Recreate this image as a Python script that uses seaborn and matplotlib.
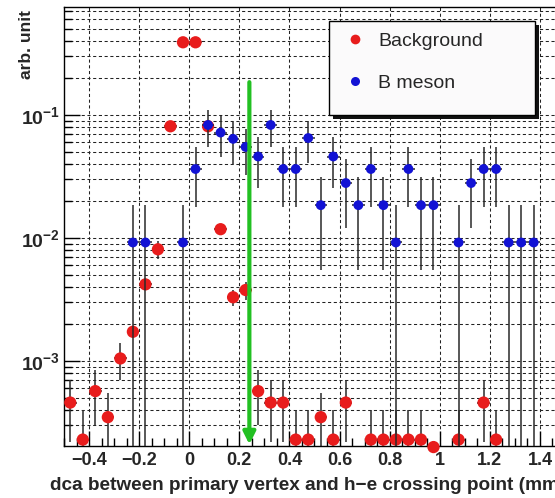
import numpy as np
import pandas as pd
import matplotlib
matplotlib.use('Agg')
import matplotlib.pyplot as plt
import seaborn as sns
from matplotlib.lines import Line2D
from matplotlib.patches import Rectangle
from matplotlib.ticker import FixedLocator, LogLocator, NullFormatter

# ---------------- data ----------------
bg_x = [-0.475, -0.425, -0.375, -0.325, -0.275, -0.225, -0.175, -0.125, -0.075, -0.025,
        0.025, 0.075, 0.125, 0.175, 0.225, 0.275, 0.325, 0.375, 0.425, 0.475,
        0.525, 0.575, 0.625, 0.725, 0.775, 0.825, 0.875, 0.925, 0.975, 1.075,
        1.175, 1.225]
bg_y = [4.6e-4, 2.3e-4, 5.7e-4, 3.5e-4, 1.05e-3, 1.73e-3, 4.2e-3, 8.1e-3, 8.1e-2, 0.39,
        0.39, 8.1e-2, 1.18e-2, 3.3e-3, 3.78e-3, 5.7e-4, 4.6e-4, 4.6e-4, 2.3e-4, 2.3e-4,
        3.5e-4, 2.3e-4, 4.6e-4, 2.3e-4, 2.3e-4, 2.3e-4, 2.3e-4, 2.3e-4, 2.0e-4, 2.3e-4,
        4.6e-4, 2.3e-4]
bg_err = [2.4e-4, 1.7e-4, 2.7e-4, 2.0e-4, 3.5e-4, 1.5e-4, 2.5e-4, 1.3e-3, 3e-3, 8e-3,
          8e-3, 3e-3, 6e-4, 5e-4, 6.5e-4, 2.7e-4, 2.4e-4, 2.4e-4, 1.7e-4, 1.7e-4,
          2.0e-4, 1.7e-4, 2.4e-4, 1.7e-4, 1.7e-4, 1.7e-4, 1.7e-4, 1.7e-4, 1.0e-5, 1.7e-4,
          2.4e-4, 1.7e-4]

b_x = [-0.225, -0.175, -0.025, 0.025, 0.075, 0.125, 0.175, 0.225, 0.275, 0.325,
       0.375, 0.425, 0.475, 0.525, 0.575, 0.625, 0.675, 0.725, 0.775, 0.825,
       0.875, 0.925, 0.975, 1.075, 1.125, 1.175, 1.225, 1.275, 1.325, 1.375]
b_y = [0.0092, 0.0092, 0.0092, 0.0364, 0.083, 0.072, 0.064, 0.055, 0.046, 0.083,
       0.0364, 0.0364, 0.065, 0.0185, 0.046, 0.028, 0.0185, 0.0364, 0.0185, 0.0092,
       0.0364, 0.0185, 0.0185, 0.0092, 0.028, 0.0364, 0.0364, 0.0092, 0.0092, 0.0092]
b_err = [0.0092, 0.0092, 0.0092, 0.0184, 0.0276, 0.026, 0.0243, 0.0225, 0.0206, 0.0276,
         0.0184, 0.0184, 0.0243, 0.013, 0.0206, 0.016, 0.013, 0.0184, 0.013, 0.0092,
         0.0184, 0.013, 0.013, 0.0092, 0.016, 0.0184, 0.0184, 0.0092, 0.0092, 0.0092]

bin_half = 0.025
x_ticks = [-0.4, -0.2, 0.0, 0.2, 0.4, 0.6, 0.8, 1.0, 1.2, 1.4]
x_ticklabels = ['\u22120.4', '\u22120.2', '0', '0.2', '0.4', '0.6', '0.8', '1', '1.2', '1.4']
y_ticks = [1e-3, 1e-2, 1e-1]
y_ticklabels = [r'$\mathbf{10^{-3}}$', r'$\mathbf{10^{-2}}$', r'$\mathbf{10^{-1}}$']
cut_x = 0.24
cut_top = 0.185
cut_bottom = 2.1e-4

labels = ['Background', 'B meson']
xlabel = 'dca between primary vertex and h\u2212e crossing point (mm)'
ylabel = 'arb. unit'

df_bg = pd.DataFrame({'dca': bg_x, 'val': bg_y, 'err': bg_err, 'sample': labels[0]})
df_b = pd.DataFrame({'dca': b_x, 'val': b_y, 'err': b_err, 'sample': labels[1]})

# ---------------- style ----------------
sns.set_style('white')
plt.rcParams['font.family'] = ['Liberation Sans', 'DejaVu Sans']
plt.rcParams['mathtext.fontset'] = 'custom'
plt.rcParams['mathtext.rm'] = 'Liberation Sans'
plt.rcParams['mathtext.bf'] = 'Liberation Sans:bold'
plt.rcParams['axes.unicode_minus'] = True

RED = '#e81c1c'
BLUE = '#1212d4'
GREEN = '#22c022'
ERRC = '#2a2a2a'

W, H = 555, 498
fig = plt.figure(figsize=(W / 100, H / 100), dpi=100)
fig.patch.set_facecolor('white')
ax = fig.add_axes([64 / W, 52 / H, 501 / W, 439 / H])
ax.set_facecolor('white')

ax.set_yscale('log', nonpositive='clip')
ax.set_xlim(-0.5, 1.5)
ax.set_ylim(2.04e-4, 0.755)

# grid
grid_kw = dict(color='#222222', linestyle=(0, (3, 2.5)), linewidth=0.75)
ax.yaxis.grid(True, which='both', **grid_kw)
ax.xaxis.grid(True, which='major', **grid_kw)
ax.set_axisbelow(True)

# error bars + markers
ax.errorbar(df_bg['dca'], df_bg['val'], xerr=bin_half, yerr=df_bg['err'], fmt='none',
            ecolor=ERRC, elinewidth=1.1, capsize=0, zorder=2)
sns.scatterplot(data=df_bg, x='dca', y='val', color=RED, s=78, edgecolor='none',
                legend=False, ax=ax, zorder=3, clip_on=False)
ax.errorbar(df_b['dca'], df_b['val'], xerr=bin_half, yerr=df_b['err'], fmt='none',
            ecolor=ERRC, elinewidth=1.1, capsize=0, zorder=4)
sns.scatterplot(data=df_b, x='dca', y='val', color=BLUE, s=50, edgecolor='none',
                legend=False, ax=ax, zorder=5, clip_on=False)

# cut arrow
ax.annotate('', xy=(cut_x, cut_bottom), xytext=(cut_x, cut_top),
            arrowprops=dict(arrowstyle='-|>', color=GREEN, lw=3, mutation_scale=18,
                            shrinkA=0, shrinkB=0), zorder=6)

# ticks
ax.set_xticks(x_ticks, labels=x_ticklabels, fontsize=13, fontweight='bold')
ax.xaxis.set_minor_locator(FixedLocator(np.arange(-0.5, 1.51, 0.05)))
ax.set_yticks(y_ticks, labels=y_ticklabels, fontsize=14)
ax.yaxis.set_minor_locator(LogLocator(base=10, subs=np.arange(2, 10)))
ax.yaxis.set_minor_formatter(NullFormatter())
ax.tick_params(axis='x', which='major', direction='in', length=11, width=1, pad=4, color='black')
ax.tick_params(axis='x', which='minor', direction='in', length=5.5, width=1, color='black')
ax.tick_params(axis='y', which='major', direction='in', length=11.5, width=1, pad=3, color='black')
ax.tick_params(axis='y', which='minor', direction='in', length=6, width=1, color='black')
ax.tick_params(bottom=True, left=True, which='both')
for sp in ax.spines.values():
    sp.set_color('black')
    sp.set_linewidth(1.0)

# axis labels (the reference crops the x title at the right edge)
ax.set_xlabel(xlabel, fontsize=13.7, fontweight='bold')
ax.xaxis.set_label_coords(1.0, (446 - 485) / 439)
ax.xaxis.label.set_ha('right')
ax.xaxis.label.set_va('center')
ax.set_ylabel(ylabel, fontsize=12.5, fontweight='bold')
ax.yaxis.set_label_coords((27 - 64) / 501, (446 - 10) / 439)
ax.yaxis.label.set_ha('right')
ax.yaxis.label.set_va('center')

# legend box with shadow
lx0, ly0, lx1, ly1 = 329, 21, 535, 115
fig.add_artist(Rectangle(((lx0 + 4) / W, 1 - (ly1 + 4) / H), (lx1 - lx0) / W, (ly1 - ly0) / H,
                         transform=fig.transFigure, facecolor='#111111', edgecolor='none', zorder=8))
fig.add_artist(Rectangle((lx0 / W, 1 - ly1 / H), (lx1 - lx0) / W, (ly1 - ly0) / H,
                         transform=fig.transFigure, facecolor='#fbfafb', edgecolor='black',
                         linewidth=1.0, zorder=9))
handles = [Line2D([], [], linestyle='none', marker='o', markersize=7, color=RED, markeredgecolor='none'),
           Line2D([], [], linestyle='none', marker='o', markersize=6.5, color=BLUE, markeredgecolor='none')]
leg = fig.legend(handles, labels, loc='upper left', bbox_to_anchor=(345 / W, 1 - 32 / H),
                 frameon=False, fontsize=14, handlelength=1.0, handletextpad=0.7,
                 labelspacing=1.25, borderpad=0, borderaxespad=0)
leg.set_zorder(10)

fig.savefig('out.png', dpi=100, facecolor='white')
